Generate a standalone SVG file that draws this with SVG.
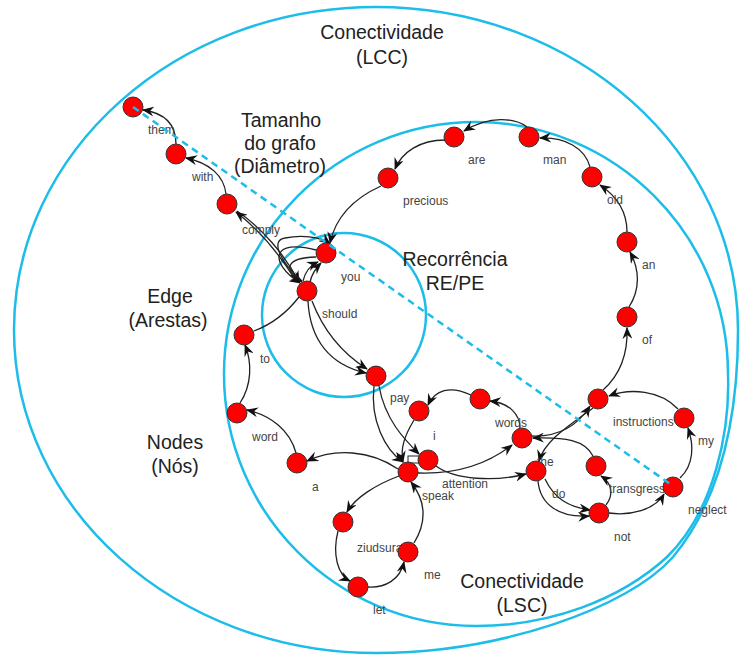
<svg xmlns="http://www.w3.org/2000/svg" width="741" height="657" viewBox="0 0 741 657">
<style>
.ring{fill:none;stroke:#1cbde9;stroke-width:2.5}
.e{fill:none;stroke:#222;stroke-width:1.3;marker-end:url(#arr)}
.p{fill:none;stroke:#222;stroke-width:1.3}
.n{fill:#ff0000;stroke:#333;stroke-width:1}
.lb{font-family:"Liberation Sans",Arial,sans-serif;font-size:12px;fill:#444}
.big{font-family:"Liberation Sans",Arial,sans-serif;font-size:19.5px;fill:#222;text-anchor:middle}
.dash{fill:none;stroke:#1cbde9;stroke-width:2.5;stroke-dasharray:7,5}
</style>
<defs>
<marker id="arr" viewBox="0 0 12 10" refX="11" refY="5" markerWidth="12" markerHeight="10" markerUnits="userSpaceOnUse" orient="auto">
<path d="M0,0 L12,5 L0,10 L4,5 z" fill="#111"/>
</marker>
</defs>
<rect width="741" height="657" fill="#fff"/>
<g id="rings">
<path id="ring-lcc" class="ring" d="M376,7 C576,7 738,151.6 738,330 C738,420 720,500 673,557 C628,608 500,653 376,653 C176,653 14,508.4 14,330 C14,151.6 176,7 376,7 Z"/>
<path id="ring-lsc" class="ring" d="M476,122 C615,122 728,235 728,374 C730,430 715,510 667,557 C620,600 550,626 476,626 C337,626 224,513 224,374 C224,235 337,122 476,122 Z"/>
<circle id="ring-re" class="ring" cx="344" cy="315" r="82"/>
</g>
<g id="connectors">
<path class="e" d="M176,144 C176,125 165,113 143,110"/>
<path class="e" d="M226,194 C224,176 210,163 186,158"/>
<path class="e" d="M237,211 C262,228 285,255 299,282"/>
<path class="e" d="M296,281 C280,255 262,232 236,212"/>
<path class="e" d="M316,250 C272,238 268,262 300,283"/>
<path class="e" d="M316,257 C284,258 284,270 302,282"/>
<path class="e" d="M303,281 C305,272 309,266 318,262"/>
<path class="e" d="M310,282 C312,273 316,268 321,263"/>
<path class="e" d="M302,281 C280,262 270,240 285,238 C300,235 320,236 330,244"/>
<path class="e" d="M381,186 C350,200 335,220 330,243"/>
<path class="e" d="M445,140 C420,140 402,152 395,169"/>
<path class="e" d="M527,127 C515,118 490,115 464,131"/>
<path class="e" d="M590,167 C585,148 565,137 540,138"/>
<path class="e" d="M627,232 C627,210 615,195 600,185"/>
<path class="e" d="M629,307 C640,290 640,270 630,252"/>
<path class="e" d="M603,390 C620,375 628,355 627,328"/>
<path class="e" d="M678,409 C660,390 630,388 609,396"/>
<path class="e" d="M680,478 C694,465 694,445 688,428"/>
<path class="e" d="M609,513 C630,516 655,510 664,494"/>
<path class="e" d="M606,505 C614,495 612,483 601,476"/>
<path class="e" d="M538,481 C540,505 560,518 589,516"/>
<path class="e" d="M545,479 C555,500 570,507 590,510"/>
<path class="e" d="M593,456 C585,440 565,437 533,438"/>
<path class="e" d="M532,436 C560,437 578,425 590,406"/>
<path class="e" d="M593,408 C570,425 545,440 539,461"/>
<path class="e" d="M520,428 C520,415 510,403 490,401"/>
<path class="e" d="M471,395 C450,385 435,390 428,405"/>
<path class="e" d="M414,420 C405,435 400,448 403,462"/>
<path class="e" d="M374,386 C370,420 385,450 403,462"/>
<path class="e" d="M379,386 C385,420 405,440 419,454"/>
<path class="e" d="M308,301 C310,340 330,365 366,373"/>
<path class="e" d="M312,301 C325,335 345,355 367,369"/>
<path class="p" d="M299,297 C285,315 270,325 254,331"/>
<path class="e" d="M240,403 C252,385 252,362 245,345"/>
<path class="e" d="M296,453 C290,430 270,415 247,410"/>
<path class="e" d="M398,469 C370,450 335,448 307,461"/>
<path class="e" d="M418,473 C445,474 480,470 512,445"/>
<path class="e" d="M436,466 C455,480 495,482 526,474"/>
<path class="e" d="M414,543 C428,520 425,500 411,482"/>
<path class="e" d="M399,476 C375,485 355,498 347,512"/>
<path class="e" d="M338,531 C332,555 338,575 350,581"/>
<path class="e" d="M368,587 C385,588 400,580 404,562"/>
<rect x="408" y="456" width="13" height="7" fill="#fff" stroke="#222" stroke-width="1"/>
</g>
<g id="nodes">
<g id="n-them"><circle class="n" cx="133" cy="107" r="10"/><text class="lb" x="148" y="134">them</text></g>
<g id="n-with"><circle class="n" cx="176" cy="154" r="10"/><text class="lb" x="192" y="181">with</text></g>
<g id="n-comply"><circle class="n" cx="227" cy="204" r="10"/><text class="lb" x="242" y="234">comply</text></g>
<g id="n-you"><circle class="n" cx="326" cy="253" r="10"/><text class="lb" x="341" y="281">you</text></g>
<g id="n-should"><circle class="n" cx="307" cy="291" r="10"/><text class="lb" x="322" y="318">should</text></g>
<g id="n-re"><circle class="n" cx="376" cy="376" r="10"/></g>
<g id="n-to"><circle class="n" cx="244" cy="335" r="10"/><text class="lb" x="260" y="363">to</text></g>
<g id="n-word"><circle class="n" cx="237" cy="413" r="10"/><text class="lb" x="252" y="441">word</text></g>
<g id="n-a"><circle class="n" cx="297" cy="463" r="10"/><text class="lb" x="312" y="491">a</text></g>
<g id="n-i"><text class="lb" x="433" y="440">i</text><circle class="n" cx="428" cy="460" r="10"/></g>
<g id="n-speak"><circle class="n" cx="408" cy="472" r="10"/><text class="lb" x="422" y="500">speak</text></g>
<g id="n-pay"><circle class="n" cx="419" cy="411" r="10"/><text class="lb" x="390" y="402">pay</text></g>
<g id="n-up"><circle class="n" cx="480" cy="399" r="10"/></g>
<g id="n-words"><text class="lb" x="495" y="427">words</text><circle class="n" cx="522" cy="438" r="10"/></g>
<g id="n-attention"><text class="lb" x="442" y="488">attention</text></g>
<g id="n-the"><text class="lb" x="537" y="466">the</text><circle class="n" cx="536" cy="471" r="10"/><text class="lb" x="552" y="498">do</text></g>
<g id="n-right"><circle class="n" cx="598" cy="399" r="10"/><text class="lb" x="613" y="426">instructions</text></g>
<g id="n-trans"><circle class="n" cx="596" cy="466" r="10"/><text class="lb" x="609" y="493">transgress</text></g>
<g id="n-not"><circle class="n" cx="599" cy="513" r="10"/><text class="lb" x="614" y="541">not</text></g>
<g id="n-neglect"><circle class="n" cx="673" cy="487" r="10"/><text class="lb" x="688" y="514">neglect</text></g>
<g id="n-my"><circle class="n" cx="684" cy="418" r="10"/><text class="lb" x="698" y="445">my</text></g>
<g id="n-of"><circle class="n" cx="627" cy="317" r="10"/><text class="lb" x="642" y="344">of</text></g>
<g id="n-an"><circle class="n" cx="627" cy="242" r="10"/><text class="lb" x="642" y="269">an</text></g>
<g id="n-old"><circle class="n" cx="592" cy="177" r="10"/><text class="lb" x="607" y="204">old</text></g>
<g id="n-man"><circle class="n" cx="529" cy="137" r="10"/><text class="lb" x="543" y="164">man</text></g>
<g id="n-are"><circle class="n" cx="454" cy="137" r="10"/><text class="lb" x="468" y="164">are</text></g>
<g id="n-precious"><circle class="n" cx="388" cy="178" r="10"/><text class="lb" x="403" y="205">precious</text></g>
<g id="n-left2"><circle class="n" cx="343" cy="522" r="10"/></g>
<g id="n-ziudsura"><text class="lb" x="357" y="552">ziudsura</text><circle class="n" cx="408" cy="552" r="10"/><text class="lb" x="424" y="579">me</text></g>
<g id="n-let"><circle class="n" cx="358" cy="587" r="10"/><text class="lb" x="373" y="614">let</text></g>
</g>
<line id="diameter" class="dash" x1="133" y1="107" x2="673" y2="486"/>
<g id="titles">
<text class="big" x="382" y="39">Conectividade</text>
<text class="big" x="382" y="64">(LCC)</text>
<text class="big" x="281" y="127">Tamanho</text>
<text class="big" x="280" y="150">do grafo</text>
<text class="big" x="280" y="173">(Diâmetro)</text>
<text class="big" x="455" y="266">Recorrência</text>
<text class="big" x="455" y="290">RE/PE</text>
<text class="big" x="170" y="303">Edge</text>
<text class="big" x="168" y="327">(Arestas)</text>
<text class="big" x="175" y="449">Nodes</text>
<text class="big" x="175" y="473">(Nós)</text>
<text class="big" x="522" y="588">Conectividade</text>
<text class="big" x="522" y="612">(LSC)</text>
</g>
</svg>
